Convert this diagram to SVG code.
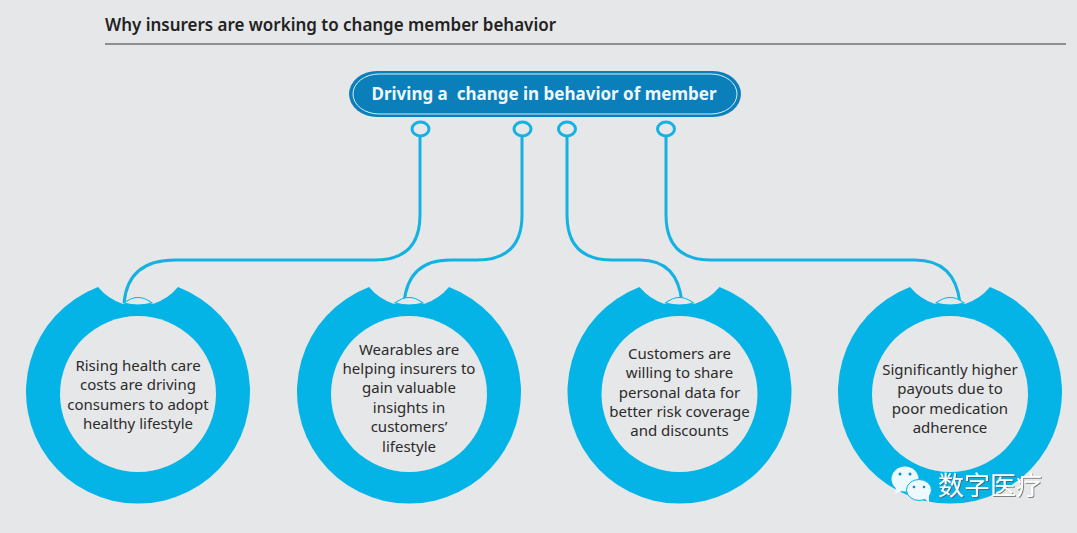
<svg xmlns="http://www.w3.org/2000/svg" xmlns:xlink="http://www.w3.org/1999/xlink" width="1077" height="533" viewBox="0 0 1077 533">
<style>
text{font-family:"Noto Sans","Open Sans","Liberation Sans",sans-serif}
.t{font-size:15px;fill:#2b2b2b;text-anchor:middle}
.c{fill:none;stroke:#14b2e2;stroke-width:3}
.r{fill:#05b4e6}
.i{fill:#e6e7e8}
.l{fill:#e6e7e8;stroke:#05b4e6;stroke-width:1.2}
.b{fill:#eef9fd}
.w{font-family:"Noto Sans CJK SC",sans-serif;font-size:26px;fill:#fff;filter:url(#sh)}
</style>
<defs>
<filter id="sh" x="-10%" y="-20%" width="120%" height="140%"><feDropShadow dx="1" dy="1" stdDeviation="0.500" flood-color="#555" flood-opacity="0.700"/></filter>
<g id="ring">
<path class="r" d="M-40 -104 A112 112 0 1 0 40 -104 Q30 -92 15 -87 L-15 -87 Q-30 -92 -40 -104Z"/>
<path class="l" d="M-14 -88 Q0 -99 14 -88 Q0 -84 -14 -88Z"/>
<circle class="i" cx="0" cy="3" r="78"/>
</g>
</defs>
<rect width="1077" height="533" fill="#e6e7e8"/>
<g id="title">
<text x="105" y="31" font-size="18" font-weight="600" fill="#222" textLength="451" lengthAdjust="spacingAndGlyphs">Why insurers are working to change member behavior</text>
<path d="M105 44H1066" stroke="#707174" stroke-width="1.500"/>
</g>
<g id="connectors">
<path class="c" d="M420 136V215Q420 260 375 260H175Q128 260 124 303"/>
<path class="c" d="M522 136V215Q522 260 477 260H450Q408 260 404 303"/>
<path class="c" d="M567 136V215Q567 260 612 260H640Q678 260 682 303"/>
<path class="c" d="M666 136V215Q666 260 711 260H915Q955 260 960 303"/>
<ellipse class="c" cx="420.500" cy="129" rx="8.500" ry="7"/>
<ellipse class="c" cx="522.500" cy="129" rx="8.500" ry="7"/>
<ellipse class="c" cx="567" cy="129" rx="8.500" ry="7"/>
<ellipse class="c" cx="666" cy="129" rx="8.500" ry="7"/>
</g>
<g id="hub">
<rect x="349" y="71" width="392" height="46" rx="28" ry="23" fill="#0a7fba"/>
<rect x="353" y="74" width="384" height="40" rx="26" ry="20" fill="none" stroke="#d8eef7" stroke-width="1"/>
<text x="544" y="100" font-size="18" font-weight="700" fill="#eef8fc" text-anchor="middle" textLength="345" lengthAdjust="spacingAndGlyphs" xml:space="preserve">Driving a  change in behavior of member</text>
</g>
<g id="node1"><use xlink:href="#ring" href="#ring" x="138" y="391"/>
<text class="t"><tspan x="138" y="371">Rising health care</tspan><tspan x="138" y="390">costs are driving</tspan><tspan x="138" y="410">consumers to adopt</tspan><tspan x="138" y="429">healthy lifestyle</tspan></text></g>
<g id="node2"><use xlink:href="#ring" href="#ring" x="409" y="391"/>
<text class="t"><tspan x="409" y="355">Wearables are</tspan><tspan x="409" y="374">helping insurers to</tspan><tspan x="409" y="393">gain valuable</tspan><tspan x="409" y="413">insights in</tspan><tspan x="409" y="432">customers’</tspan><tspan x="409" y="452">lifestyle</tspan></text></g>
<g id="node3"><use xlink:href="#ring" href="#ring" x="679.500" y="391"/>
<text class="t"><tspan x="679.500" y="359">Customers are</tspan><tspan x="679.500" y="378">willing to share</tspan><tspan x="679.500" y="398">personal data for</tspan><tspan x="679.500" y="417">better risk coverage</tspan><tspan x="679.500" y="436">and discounts</tspan></text></g>
<g id="node4"><use xlink:href="#ring" href="#ring" x="950" y="391"/>
<text class="t"><tspan x="950" y="375">Significantly higher</tspan><tspan x="950" y="394">payouts due to</tspan><tspan x="950" y="414">poor medication</tspan><tspan x="950" y="433">adherence</tspan></text></g>
<g id="watermark">
<ellipse class="b" cx="905" cy="479" rx="13.500" ry="12.500"/>
<path class="b" d="M896 487L895 494L904 490Z"/>
<ellipse class="b" cx="919" cy="490" rx="12.500" ry="10.500" stroke="#05b4e6" stroke-width="1"/>
<path class="b" d="M924 498L929 503L929 494Z"/>
<circle cx="900" cy="474" r="1.500" fill="#0a8fc0"/><circle cx="910" cy="474" r="1.500" fill="#0a8fc0"/>
<circle cx="914" cy="487" r="1.300" fill="#0a8fc0"/><circle cx="924" cy="487" r="1.300" fill="#0a8fc0"/>
<text class="w" x="938" y="495" textLength="104">数字医疗</text>
</g>
</svg>
